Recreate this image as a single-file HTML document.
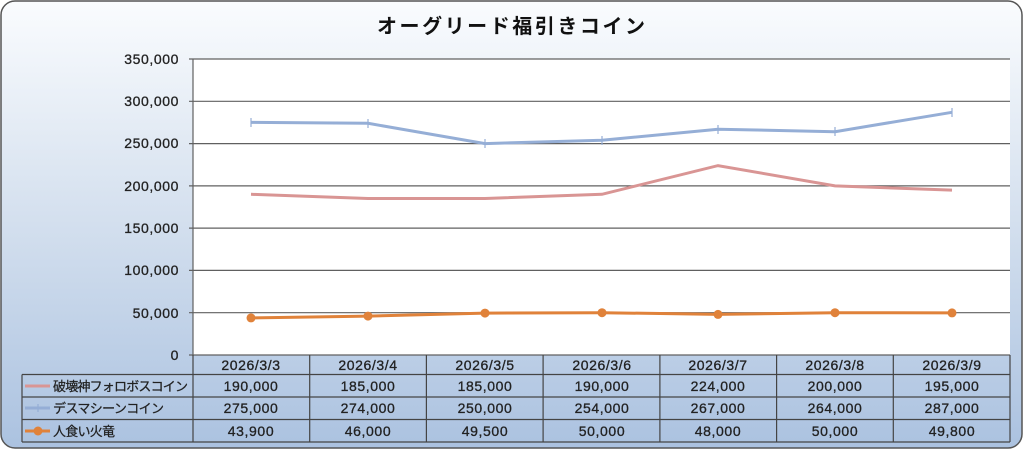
<!DOCTYPE html>
<html><head><meta charset="utf-8"><style>
html,body{margin:0;padding:0;width:1024px;height:450px;overflow:hidden;background:#fff}
svg text{font-family:"Liberation Sans","Noto Sans CJK JP",sans-serif}
</style></head><body>
<svg width="1024" height="450" viewBox="0 0 1024 450" xmlns="http://www.w3.org/2000/svg">
<defs>
<linearGradient id="bg" x1="0" y1="0" x2="0" y2="1">
<stop offset="0" stop-color="#fafcfe"/><stop offset="0.5" stop-color="#d3dfee"/><stop offset="1" stop-color="#abc2e0"/>
</linearGradient>
</defs>
<rect x="1" y="1" width="1021" height="447" rx="14" fill="url(#bg)" stroke="#555" stroke-width="1.5"/>
<text x="377" y="33" font-size="20" font-weight="bold" textLength="268" lengthAdjust="spacing" fill="#111">オーグリード福引きコイン</text>
<rect x="193" y="59" width="817" height="296" fill="#fff"/>
<g stroke="#606060" stroke-width="1.2">
<line x1="189" y1="59" x2="1010" y2="59"/><line x1="189" y1="101.3" x2="1010" y2="101.3"/>
<line x1="189" y1="143.6" x2="1010" y2="143.6"/><line x1="189" y1="185.9" x2="1010" y2="185.9"/>
<line x1="189" y1="228.1" x2="1010" y2="228.1"/><line x1="189" y1="270.4" x2="1010" y2="270.4"/>
<line x1="189" y1="312.7" x2="1010" y2="312.7"/><line x1="189" y1="355" x2="1010" y2="355"/>
<line x1="193" y1="59" x2="193" y2="355"/>
</g>
<g font-size="14" text-anchor="end" fill="#222" letter-spacing="0.6" stroke="#222" stroke-width="0.3">
<text x="179" y="64">350,000</text><text x="179" y="106">300,000</text><text x="179" y="148">250,000</text>
<text x="179" y="191">200,000</text><text x="179" y="233">150,000</text><text x="179" y="275">100,000</text>
<text x="179" y="318">50,000</text><text x="179" y="360">0</text>
</g>
<polyline fill="none" stroke="#d99594" stroke-width="3" points="251,194.3 368,198.5 485,198.5 602,194.3 718,165.6 835,185.9 952,190.1"/>
<polyline fill="none" stroke="#95aed6" stroke-width="3" points="251,122.4 368,123.3 485,143.6 602,140.2 718,129.2 835,131.7 952,112.3"/>
<g stroke="#95aed6" stroke-width="1.2">
<line x1="251" y1="118" x2="251" y2="127"/><line x1="368" y1="119" x2="368" y2="128"/><line x1="485" y1="139" x2="485" y2="148"/>
<line x1="602" y1="136" x2="602" y2="145"/><line x1="718" y1="125" x2="718" y2="134"/><line x1="835" y1="127" x2="835" y2="136"/>
<line x1="952" y1="108" x2="952" y2="117"/>
</g>
<polyline fill="none" stroke="#e0823a" stroke-width="3" points="251,317.9 368,316.1 485,313.1 602,312.7 718,314.4 835,312.7 952,312.9"/>
<g fill="#e0823a">
<circle cx="251" cy="317.9" r="4.5"/><circle cx="368" cy="316.1" r="4.5"/><circle cx="485" cy="313.1" r="4.5"/>
<circle cx="602" cy="312.7" r="4.5"/><circle cx="718" cy="314.4" r="4.5"/><circle cx="835" cy="312.7" r="4.5"/><circle cx="952" cy="312.9" r="4.5"/>
</g>
<g stroke="#444" stroke-width="1.2" fill="none">
<line x1="193" y1="355" x2="193" y2="442"/>
<line x1="309.7" y1="355" x2="309.7" y2="442"/><line x1="426.4" y1="355" x2="426.4" y2="442"/>
<line x1="543.1" y1="355" x2="543.1" y2="442"/><line x1="659.9" y1="355" x2="659.9" y2="442"/>
<line x1="776.6" y1="355" x2="776.6" y2="442"/><line x1="893.3" y1="355" x2="893.3" y2="442"/>
<line x1="1010" y1="355" x2="1010" y2="442"/>
<line x1="22" y1="374.5" x2="1010" y2="374.5"/><line x1="22" y1="397" x2="1010" y2="397"/>
<line x1="22" y1="419.5" x2="1010" y2="419.5"/><line x1="22" y1="442" x2="1010" y2="442"/>
<line x1="22" y1="374.5" x2="22" y2="442"/>
</g>
<g font-size="14" text-anchor="middle" fill="#222" letter-spacing="0.6" stroke="#222" stroke-width="0.3">
<text x="251" y="370">2026/3/3</text><text x="368" y="370">2026/3/4</text><text x="485" y="370">2026/3/5</text>
<text x="602" y="370">2026/3/6</text><text x="718" y="370">2026/3/7</text><text x="835" y="370">2026/3/8</text><text x="952" y="370">2026/3/9</text>
<text x="251" y="391">190,000</text><text x="368" y="391">185,000</text><text x="485" y="391">185,000</text>
<text x="602" y="391">190,000</text><text x="718" y="391">224,000</text><text x="835" y="391">200,000</text><text x="952" y="391">195,000</text>
<text x="251" y="413">275,000</text><text x="368" y="413">274,000</text><text x="485" y="413">250,000</text>
<text x="602" y="413">254,000</text><text x="718" y="413">267,000</text><text x="835" y="413">264,000</text><text x="952" y="413">287,000</text>
<text x="251" y="436">43,900</text><text x="368" y="436">46,000</text><text x="485" y="436">49,500</text>
<text x="602" y="436">50,000</text><text x="718" y="436">48,000</text><text x="835" y="436">50,000</text><text x="952" y="436">49,800</text>
</g>
<line x1="25" y1="386" x2="50" y2="386" stroke="#d99594" stroke-width="3"/>
<line x1="25" y1="408" x2="50" y2="408" stroke="#95aed6" stroke-width="3"/>
<line x1="38" y1="404" x2="38" y2="412" stroke="#95aed6" stroke-width="1.2"/>
<line x1="25" y1="431" x2="50" y2="431" stroke="#e0823a" stroke-width="3"/>
<circle cx="38" cy="431" r="4.5" fill="#e0823a"/>
<g font-size="13" fill="#222" stroke="#222" stroke-width="0.25">
<text x="53" y="391" textLength="135" lengthAdjust="spacing">破壊神フォロボスコイン</text>
<text x="53" y="413" textLength="111" lengthAdjust="spacing">デスマシーンコイン</text>
<text x="53" y="436" textLength="62" lengthAdjust="spacing">人食い火竜</text>
</g>
</svg>
</body></html>
